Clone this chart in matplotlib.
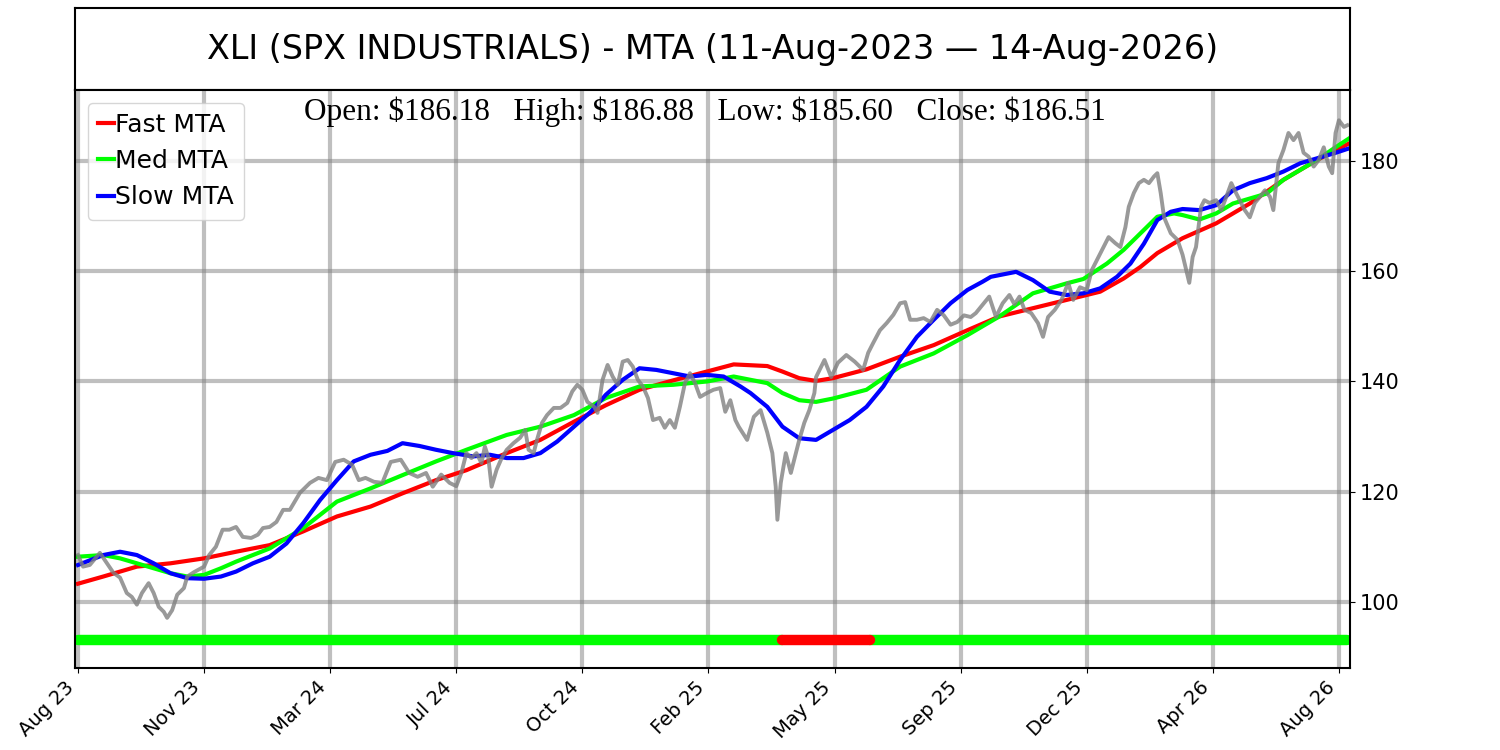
import matplotlib.pyplot as plt

# bar index (trading days since 11-Aug-2023) and close
price_bar = [0, 3, 7, 13, 17, 21, 25, 29, 32, 35, 38, 42, 45, 48, 51, 53, 56, 59, 63, 65,
             69, 75, 78, 82, 86, 90, 94, 98, 103, 107, 110, 114, 118, 122, 126, 132, 138, 143, 148, 153,
             158, 163, 167, 171, 176, 181, 186, 192, 197, 202, 207, 211, 216, 221, 225, 228, 231, 234, 237, 240,
             242, 244, 246, 249, 252, 255, 259, 263, 266, 268, 271, 273, 276, 279, 283, 287, 291, 294, 297, 300,
             303, 307, 309, 312, 315, 318, 321, 324, 327, 330, 333, 336, 339, 342, 346, 349, 352, 355, 358, 361,
             364, 367, 370, 374, 378, 382, 385, 388, 391, 393, 398, 402, 406, 410, 413, 415, 416, 418, 421, 424,
             427, 429, 432, 435, 438, 439, 444, 448, 452, 457, 462, 467, 470, 473, 477, 481, 485, 489, 492, 495,
             499, 503, 507, 511, 515, 519, 523, 527, 531, 534, 538, 542, 546, 550, 554, 557, 560, 563, 567, 571,
             574, 577, 581, 585, 589, 592, 596, 600, 603, 606, 610, 613, 617, 620, 623, 625, 628, 631, 634, 637,
             640, 642, 644, 646, 650, 654, 657, 661, 663, 665, 668, 670, 673, 677, 680, 683, 686, 688, 691, 694,
             697, 700, 703, 706, 709, 711, 714, 717, 720, 723, 726, 729, 732, 735, 738, 741, 744, 746, 748, 750,
             753, 755]
price_close = [108.5, 106.4, 106.7, 108.9, 107.1, 105.3, 104.4, 101.6, 100.9, 99.5, 101.6, 103.4, 101.6, 99.1, 98.2, 97.1, 98.5, 101.3, 102.5, 104.6,
               105.4, 106.4, 108.5, 110.0, 113.1, 113.1, 113.6, 111.8, 111.6, 112.2, 113.4, 113.6, 114.5, 116.7, 116.7, 119.8, 121.6, 122.5, 122.1, 125.4,
               125.8, 124.9, 122.1, 122.5, 121.8, 121.6, 125.4, 125.8, 123.4, 122.7, 123.4, 120.9, 123.1, 121.6, 121.0, 123.4, 127.0, 126.1, 127.0, 125.2,
               128.2, 126.3, 120.9, 124.0, 126.1, 127.6, 128.8, 129.8, 131.2, 127.6, 127.0, 129.4, 132.5, 133.9, 135.2, 135.2, 136.1, 138.2, 139.4, 138.5,
               136.3, 135.4, 134.3, 140.3, 143.0, 140.9, 139.4, 143.6, 143.9, 142.7, 140.3, 139.1, 137.0, 133.0, 133.4, 131.6, 133.0, 131.6, 135.4, 139.7,
               141.5, 139.7, 137.2, 137.9, 138.5, 138.8, 134.5, 136.6, 133.0, 131.8, 129.4, 133.6, 134.8, 130.7, 127.0, 120.9, 114.9, 121.6, 127.0, 123.4,
               127.0, 129.4, 132.5, 134.8, 137.9, 140.8, 143.9, 140.8, 143.4, 144.8, 143.6, 142.1, 145.2, 147.0, 149.3, 150.6, 152.1, 154.2, 154.4, 151.2,
               151.2, 151.5, 150.8, 153.0, 152.0, 150.3, 150.8, 152.0, 151.7, 152.4, 153.9, 155.4, 151.7, 154.2, 155.7, 154.0, 155.4, 153.0, 152.4, 150.6,
               148.1, 151.7, 153.0, 154.8, 157.9, 154.8, 157.1, 156.6, 160.2, 162.0, 164.4, 166.2, 165.1, 164.4, 168.0, 171.7, 174.2, 176.0, 176.6, 176.0,
               177.2, 177.8, 174.2, 169.8, 166.9, 165.7, 163.0, 157.9, 162.6, 164.4, 171.7, 172.9, 172.4, 172.9, 171.1, 173.5, 176.0, 174.7, 172.9, 171.1,
               169.8, 172.4, 173.5, 174.7, 173.5, 171.1, 179.6, 182.0, 185.1, 183.8, 185.1, 181.5, 180.8, 179.0, 180.2, 182.5, 179.0, 177.8, 185.1, 187.4,
               186.2, 186.5]

fast_bar = [0, 15, 35, 55, 75, 94, 114, 134, 154, 174, 193, 213, 231, 255, 275, 295, 314, 334, 354, 374,
            390, 410, 419, 429, 439, 449, 469, 489, 509, 529, 548, 568, 588, 608, 622, 632, 642, 657, 677, 697,
            717, 737, 756]
fast_mta = [103.3, 104.6, 106.4, 107.0, 107.9, 109.1, 110.3, 112.8, 115.5, 117.3, 119.7, 122.1, 123.9, 127.0, 129.4, 132.7, 135.7, 138.5, 140.2, 141.8,
            143.1, 142.8, 141.8, 140.6, 140.1, 140.6, 142.2, 144.5, 146.6, 149.3, 151.8, 153.3, 154.8, 156.3, 158.7, 160.8, 163.3, 166.0, 168.7, 172.3,
            176.6, 180.2, 183.2]

med_bar = [0, 15, 25, 35, 45, 55, 65, 75, 85, 94, 114, 134, 154, 174, 193, 213, 231, 255, 275, 295,
           314, 334, 354, 374, 390, 410, 419, 429, 439, 449, 469, 479, 489, 509, 529, 548, 558, 568, 588, 598,
           612, 622, 632, 642, 652, 657, 667, 677, 687, 697, 707, 717, 727, 737, 747, 756]
med_mta = [108.2, 108.5, 107.9, 107.0, 106.1, 105.2, 104.6, 104.9, 106.1, 107.3, 109.7, 113.4, 118.2, 120.6, 123.0, 125.5, 127.6, 130.3, 131.8, 133.9,
           137.0, 139.1, 139.4, 140.0, 140.9, 139.7, 137.9, 136.6, 136.3, 136.9, 138.5, 140.6, 142.7, 145.1, 148.4, 151.8, 153.9, 156.0, 157.8, 158.6,
           161.4, 163.9, 166.9, 169.9, 170.5, 170.2, 169.4, 170.5, 172.3, 173.2, 174.1, 176.6, 178.4, 180.2, 182.3, 184.1]

slow_bar = [0, 15, 25, 35, 45, 55, 65, 75, 85, 94, 104, 114, 124, 134, 144, 154, 164, 174, 184, 193,
            203, 213, 223, 235, 245, 255, 265, 275, 285, 295, 305, 314, 324, 334, 344, 354, 364, 374, 384, 394,
            400, 410, 419, 429, 439, 449, 459, 469, 479, 489, 499, 509, 519, 529, 538, 543, 558, 568, 578, 588,
            598, 608, 618, 626, 634, 642, 650, 657, 667, 677, 687, 697, 707, 717, 727, 737, 747, 756]
slow_mta = [106.7, 108.5, 109.1, 108.5, 107.0, 105.2, 104.3, 104.2, 104.6, 105.5, 107.0, 108.2, 110.6, 114.3, 118.5, 122.1, 125.5, 126.7, 127.4, 128.8,
            128.3, 127.6, 127.0, 126.4, 126.7, 126.1, 126.1, 127.0, 129.1, 131.8, 134.5, 137.6, 140.3, 142.4, 142.1, 141.5, 140.9, 141.2, 140.9, 139.1,
            137.9, 135.4, 131.8, 129.7, 129.4, 131.2, 133.0, 135.4, 139.1, 143.9, 148.1, 151.2, 154.2, 156.6, 158.1, 159.0, 159.9, 158.4, 156.3, 155.7,
            156.0, 156.9, 159.0, 161.4, 165.0, 169.3, 170.8, 171.3, 171.1, 172.0, 174.7, 176.0, 176.9, 178.1, 179.6, 180.5, 181.4, 182.3]

# trend signal strip: start/end bars of each regime (bullish first, bearish drawn on top)
signal_start = [0, 471, 419]
signal_end = [419, 755, 471]
signal_color = ['lime', 'lime', 'red']
signal_level = 93

tick_bars = [0, 75, 150, 225, 300, 375, 450, 525, 600, 675, 750]
tick_labels = ['Aug 23', 'Nov 23', 'Mar 24', 'Jul 24', 'Oct 24', 'Feb 25',
               'May 25', 'Sep 25', 'Dec 25', 'Apr 26', 'Aug 26']

title = 'XLI (SPX INDUSTRIALS) - MTA (11-Aug-2023 \u2014 14-Aug-2026)'
ohlc = 'Open: $186.18   High: $186.88   Low: $185.60   Close: $186.51'

fig = plt.figure(figsize=(15, 7.5), dpi=100)

# title box
ax_t = fig.add_axes([0.05, 0.88, 0.85, 0.1093])
ax_t.set_xticks([])
ax_t.set_yticks([])
for s in ax_t.spines.values():
    s.set_linewidth(1.5)
ax_t.text(0.5, 0.5, title, ha='center', va='center', fontsize=24, transform=ax_t.transAxes)

ax = fig.add_axes([0.05, 0.10933, 0.85, 0.77067])
ax.set_axisbelow(True)
ax.grid(True, color='gray', alpha=0.5, linewidth=3)

ax.plot(fast_bar, fast_mta, color='red', linewidth=3, label='Fast MTA')
ax.plot(med_bar, med_mta, color='lime', linewidth=3, label='Med MTA')
ax.plot(slow_bar, slow_mta, color='blue', linewidth=3, label='Slow MTA')
ax.plot(price_bar, price_close, color='gray', alpha=0.8, linewidth=2.8)

for a, b, c in zip(signal_start, signal_end, signal_color):
    ax.plot([a, b], [signal_level, signal_level], color=c, linewidth=7.5,
            solid_capstyle='round')

ax.set_xlim(-1.8, 756.6)
ax.set_ylim(88, 192.9)
ax.set_xticks(tick_bars)
ax.set_xticklabels(tick_labels, rotation=45, ha='right', fontsize=14)
ax.yaxis.tick_right()
ax.tick_params(axis='y', labelsize=15)
for s in ax.spines.values():
    s.set_linewidth(1.5)

ax.text(0.494, 0.948, ohlc, ha='center', va='baseline', fontsize=22.5,
        family='Liberation Serif', transform=ax.transAxes, parse_math=False)

ax.legend(loc='upper left', fontsize=18, handlelength=0.64, handletextpad=0.05,
          labelspacing=0.5, borderpad=0.4)

plt.savefig('out.png', dpi=100)
